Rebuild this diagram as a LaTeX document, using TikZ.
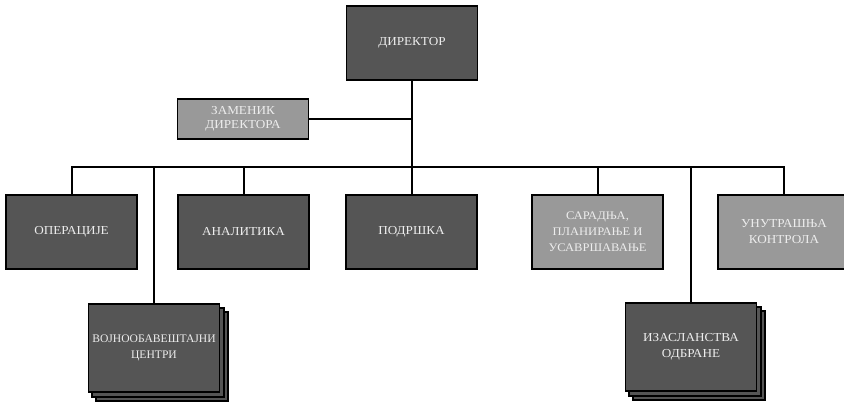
\documentclass[tikz,border=0pt]{standalone}
\usepackage{fontspec}
\setmainfont{Liberation Serif}
\newfontfamily\widefont[FakeStretch=1.08]{Liberation Serif}
\definecolor{boxdark}{HTML}{555555}
\definecolor{boxlight}{HTML}{999999}
\definecolor{txt}{HTML}{EDEDED}
\begin{document}
\begin{tikzpicture}[x=1pt,y=-1pt,
  box/.style={draw=black, line width=1.1pt, text=txt, inner sep=0pt,
    align=center, font=\widefont\fontsize{12.2}{16}\selectfont,
    minimum width=131pt, minimum height=74pt},
  sized/.style={font=\widefont\fontsize{#1}{16}\selectfont},
  darkbox/.style={box, fill=boxdark},
  lightbox/.style={box, fill=boxlight},
  layer/.style={draw=black, line width=1.1pt, fill=boxdark},
  conn/.style={draw=black, line width=2pt}]
\clip (0,0) rectangle (844,403);
\fill[white] (0,0) rectangle (844,403);

% top
\node[darkbox] (dir) at (412,43) {ДИРЕКТОР};
\node[lightbox, minimum height=40pt, font=\widefont\fontsize{12.2}{14}\selectfont] (dep) at (243,119) {ЗАМЕНИК\\ДИРЕКТОРА};

% row of boxes
\node[darkbox] (op) at (71.5,232) {ОПЕРАЦИЈЕ};
\node[darkbox] (an) at (243.5,232) {АНАЛИТИКА};
\node[darkbox] (po) at (411.5,232) {ПОДРШКА};
\node[lightbox, sized=11.6] (sa) at (597.5,232) {САРАДЊА,\\ПЛАНИРАЊЕ И\\УСАВРШАВАЊЕ};
\node[lightbox, minimum width=132pt] (un) at (784,232) {УНУТРАШЊА\\КОНТРОЛА};

% stacked boxes
\draw[layer] (96,312) rectangle (228,401);
\draw[layer] (92,308) rectangle (224,397);
\node[darkbox, minimum height=88pt, font=\fontsize{11.6}{16}\selectfont] (vo) at (154,348) {ВОЈНООБАВЕШТАЈНИ\\ЦЕНТРИ};
\draw[layer] (633,311) rectangle (765,400);
\draw[layer] (629,307) rectangle (761,396);
\node[darkbox, minimum height=88pt] (iz) at (691,347) {ИЗАСЛАНСТВА\\ОДБРАНЕ};

% connectors
\coordinate (bus) at (412,167);
\draw[conn] (dir.south) -- (bus);
\draw[conn] (dep.east) -- (dep.east -| dir.south);
\draw[conn] (op.north) -- (op.north |- bus) -- (un.north |- bus) -- (un.north);
\draw[conn] (an.north) -- (an.north |- bus);
\draw[conn] (po.north) -- (po.north |- bus);
\draw[conn] (sa.north) -- (sa.north |- bus);
\draw[conn] (vo.north) -- (vo.north |- bus);
\draw[conn] (iz.north) -- (iz.north |- bus);
\end{tikzpicture}
\end{document}
